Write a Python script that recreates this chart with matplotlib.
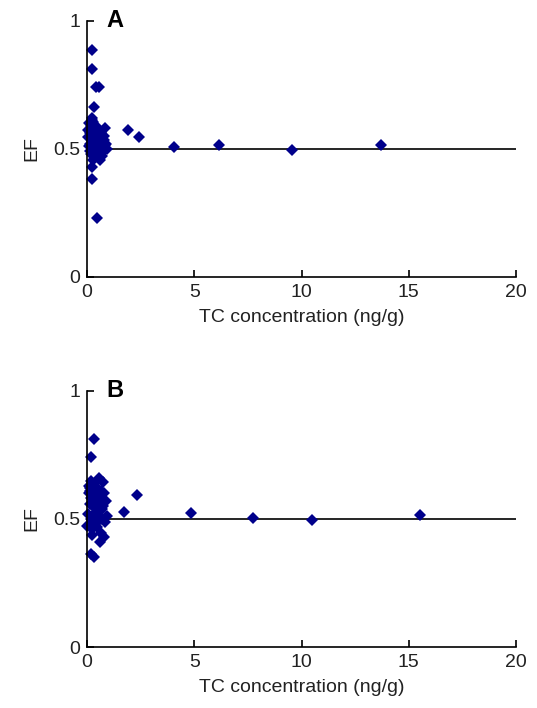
import matplotlib.pyplot as plt

plt.rcParams['font.family'] = ['Liberation Sans', 'DejaVu Sans']

# panel A: TC concentration (ng/g) and EF
tc_a = [0.25, 0.25, 0.40, 0.57, 0.31, 0.22, 0.03, 0.84, 1.93, 2.42, 0.60, 0.25, 0.25, 0.47,
        4.06, 6.15, 9.56, 13.70,
        0.10, 0.15, 0.20, 0.30, 0.35, 0.45, 0.50, 0.55, 0.65, 0.70, 0.80, 0.90,
        0.12, 0.18, 0.28, 0.38, 0.42, 0.52, 0.62, 0.75, 0.95, 0.05,
        0.20, 0.33, 0.48, 0.58, 0.68, 0.85, 0.15, 0.40, 0.55, 0.72,
        0.25, 0.36, 0.46, 0.66, 0.78, 0.10, 0.30]
ef_a = [0.884, 0.810, 0.741, 0.741, 0.661, 0.620, 0.574, 0.582, 0.574, 0.544, 0.457, 0.427, 0.383, 0.229,
        0.507, 0.513, 0.493, 0.513,
        0.600, 0.560, 0.590, 0.605, 0.570, 0.555, 0.580, 0.540, 0.560, 0.530, 0.550, 0.520,
        0.520, 0.540, 0.500, 0.510, 0.530, 0.495, 0.505, 0.490, 0.500, 0.545,
        0.480, 0.470, 0.485, 0.475, 0.500, 0.515, 0.490, 0.525, 0.465, 0.470,
        0.610, 0.585, 0.565, 0.515, 0.535, 0.510, 0.455]

# panel B
tc_b = [0.31, 0.17, 0.76, 2.32, 1.74, 0.00, 0.25, 0.60, 0.34, 0.20,
        4.83, 7.74, 10.50, 15.50,
        0.10, 0.15, 0.20, 0.30, 0.35, 0.45, 0.50, 0.55, 0.65, 0.70, 0.80, 0.90,
        0.12, 0.18, 0.28, 0.38, 0.42, 0.52, 0.62, 0.75, 0.95, 0.05,
        0.20, 0.33, 0.48, 0.58, 0.68, 0.85, 0.15, 0.40, 0.55, 0.72,
        0.25, 0.36, 0.46, 0.66, 0.78, 0.10]
ef_b = [0.813, 0.743, 0.646, 0.594, 0.526, 0.474, 0.438, 0.409, 0.353, 0.365,
        0.522, 0.503, 0.496, 0.516,
        0.630, 0.610, 0.650, 0.600, 0.640, 0.620, 0.590, 0.660, 0.610, 0.580, 0.600, 0.570,
        0.560, 0.580, 0.550, 0.570, 0.540, 0.560, 0.530, 0.550, 0.510, 0.520,
        0.500, 0.520, 0.490, 0.510, 0.500, 0.490, 0.620, 0.595, 0.575, 0.540,
        0.460, 0.480, 0.470, 0.445, 0.430, 0.600]

panels = [("A", tc_a, ef_a), ("B", tc_b, ef_b)]

fig = plt.figure(figsize=(5.37, 7.08), dpi=100)
boxes = [[0.162, 0.609, 0.799, 0.362], [0.162, 0.086, 0.799, 0.362]]

for (label, x, y), box in zip(panels, boxes):
    ax = fig.add_axes(box)
    ax.plot([0, 20], [0.5, 0.5], color='black', lw=1.2, zorder=1)
    ax.plot(x, y, 'D', color='#00008b', markersize=6.5, markeredgewidth=0, zorder=2, clip_on=False)
    ax.set_xlim(0, 20)
    ax.set_ylim(0, 1)
    ax.set_xticks([0, 5, 10, 15, 20])
    ax.set_yticks([0, 0.5, 1])
    ax.set_yticklabels(['0', '0.5', '1'])
    ax.tick_params(direction='in', length=5, width=1.2, labelsize=14, pad=5, labelcolor='#222222')
    for s in ['top', 'right']:
        ax.spines[s].set_visible(False)
    for s in ['left', 'bottom']:
        ax.spines[s].set_linewidth(1.2)
    ax.set_xlabel("TC concentration (ng/g)", fontsize=14, labelpad=6, color='#222222')
    ax.set_ylabel("EF", fontsize=14, labelpad=9, color='#222222')
    ax.text(0.045, 1.0, label, transform=ax.transAxes, fontsize=17, fontweight='bold',
            va='center', ha='left')

fig.savefig("out.png", dpi=100)
